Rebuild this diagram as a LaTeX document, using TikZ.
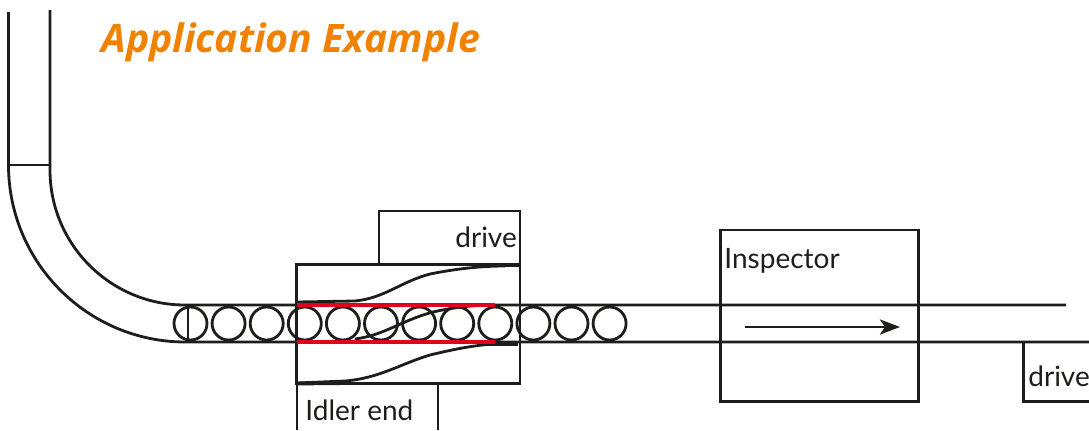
\documentclass[tikz,border=0pt]{standalone}
\usepackage{fontspec}
\setmainfont[Ligatures=NoCommon]{Lato}
\newfontfamily\titlefont{Open Sans}
\usepackage{tikz}
\usetikzlibrary{arrows.meta}
\definecolor{titleOrange}{HTML}{F08200}
\definecolor{guideRed}{HTML}{E2001A}
\definecolor{inkBlack}{HTML}{1D1D1B}
\tikzset{
  part/.style={draw=inkBlack,line width=1.4pt},
  thickPart/.style={draw=inkBlack,line width=1.9pt},
  guide/.style={draw=guideRed,line width=2pt},
  label/.style={anchor=base west,inner sep=0pt,text=inkBlack,font=\fontsize{14}{16}\selectfont},
}
\begin{document}
\begin{tikzpicture}[x=0.5pt,y=-0.5pt]
\useasboundingbox (0,0) rectangle (1089,430);
% feed tube
\draw[part] (8.5,12) -- (8.5,165) arc[start angle=180,end angle=270,x radius=177,y radius=-177] -- (1089,342);
\draw[part] (50,10) -- (50,170) arc[start angle=180,end angle=270,x radius=135,y radius=-135] -- (1066,305);
\draw[part] (8.5,165) -- (50,165);
% balls
\foreach \n in {0,...,11}
  \draw[part] (190.5+38.1*\n,323.5) circle[radius=16.5];
\draw[part] (188,307) -- (188,341);
% transfer unit
\draw[part] (296.5,264.5) rectangle (520,383.5);
\draw[part] (379,264.5) -- (379,211) -- (520,211) -- (520,264.5);
\draw[part] (297,430) -- (297,384) -- (438,384) -- (438,430);
\draw[thickPart] (480,265.5) -- (520,265.5);
\draw[thickPart] (297,383.5) -- (350,383);
\draw[thickPart] (490,344.5) -- (518,344.5);
% moving paths
\draw[part] (297,302) -- (355,301) .. controls (385,298) and (400,282) .. (430,274) .. controls (455,269) and (480,266) .. (505,266);
\draw[part] (355,339) .. controls (385,335) and (400,321) .. (433,312) .. controls (455,307) and (475,305) .. (495,305);
\draw[part] (297,383) -- (345,381) .. controls (380,378) and (400,364) .. (430,355) .. controls (455,349) and (475,345) .. (495,344);
\draw[guide] (297,305) -- (495,305);
\draw[guide] (297,341.5) -- (495,341.5);
% inspection
\draw[part] (720.5,230) rectangle (918.5,401.5);
\coordinate (flowStart) at (745,327);
\coordinate (flowEnd) at (900,327);
\draw[part,-{Stealth[length=10pt,width=7.5pt,inset=2.5pt]}] (flowStart) -- (flowEnd);
\draw[part] (1023.5,342) -- (1023.5,401.5) -- (1089,401.5);
% labels
\node[anchor=base west,inner sep=0pt,text=titleOrange,font=\titlefont\fontsize{19.6}{24}\selectfont\bfseries\itshape] (title) at (101,52) {Application Example};
\node[label] (driveTop) at (455,247) {drive};
\node[label] (inspector) at (724,268) {Inspector};
\node[label] (idler) at (305,420) {Idler end};
\node[label] (driveRight) at (1028,386) {drive};
\end{tikzpicture}
\end{document}
